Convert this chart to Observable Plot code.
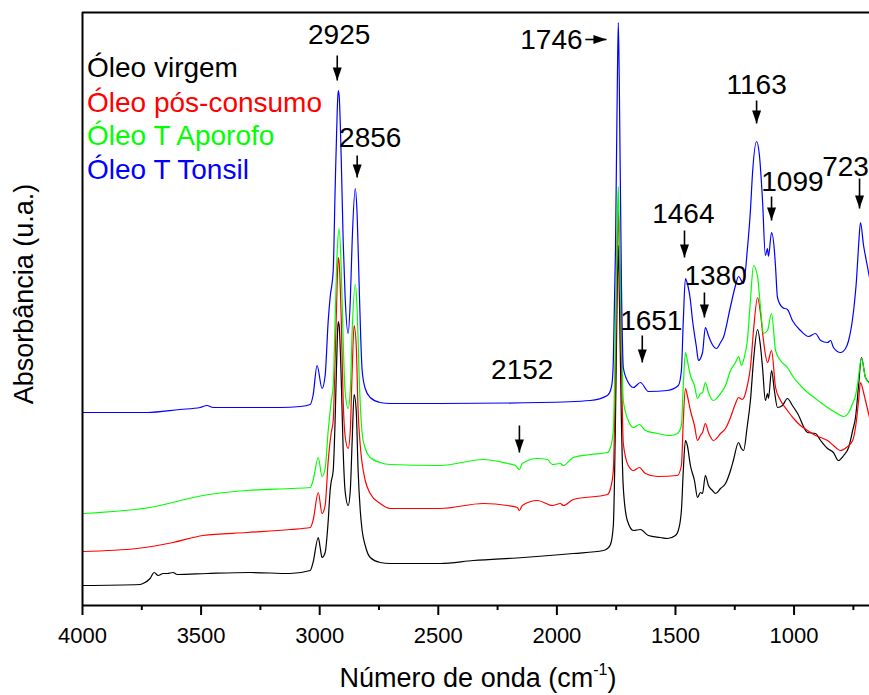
<!DOCTYPE html>
<html>
<head>
<meta charset="utf-8">
<script src="https://cdn.jsdelivr.net/npm/d3@7"></script>
<script src="https://cdn.jsdelivr.net/npm/@observablehq/plot@0.6"></script>
<style>
  html, body { margin: 0; padding: 0; background: #ffffff; }
  #chart { width: 869px; height: 695px; }
</style>
</head>
<body>
<div id="chart"></div>
<script>
// ---------- data: [wavenumber (cm-1), absorbance (u.a., offset)] ----------
const oleoVirgem = [
  [3998,0.20],[3757,0.21],[3745,0.22],[3715,0.27],[3698,0.33],[3681,0.30],[3660,0.32],[3643,0.32],
  [3618,0.33],[3601,0.31],[3475,0.32],[3293,0.33],[3125,0.32],[3040,0.35],[3028,0.43],[3006,0.68],
  [2998,0.58],[2990,0.48],[2977,0.53],[2964,0.85],[2956,1.15],[2952,1.23],[2943,1.35],[2935,1.85],
  [2926,2.65],[2922,2.84],[2918,2.80],[2909,2.25],[2901,1.55],[2893,1.15],[2880,1.00],[2871,1.15],
  [2863,1.65],[2855,2.11],[2846,1.95],[2838,1.35],[2829,0.95],[2821,0.75],[2808,0.60],[2787,0.48],
  [2745,0.43],[2703,0.42],[2492,0.42],[2352,0.45],[2141,0.48],[1931,0.52],[1804,0.55],[1787,0.57],
  [1774,0.61],[1762,0.80],[1753,1.85],[1745,3.25],[1741,3.60],[1737,3.15],[1728,1.85],[1720,1.18],
  [1703,0.85],[1677,0.75],[1648,0.76],[1614,0.70],[1564,0.68],[1534,0.67],[1500,0.70],[1488,0.75],
  [1475,0.95],[1467,1.35],[1458,1.65],[1450,1.60],[1437,1.40],[1420,1.25],[1407,1.08],[1395,1.13],
  [1386,1.12],[1374,1.30],[1361,1.20],[1344,1.15],[1331,1.12],[1310,1.17],[1289,1.22],[1268,1.35],
  [1256,1.45],[1234,1.63],[1222,1.57],[1213,1.55],[1197,1.80],[1184,2.05],[1171,2.45],[1154,2.76],
  [1142,2.60],[1133,2.38],[1121,2.05],[1112,2.12],[1108,2.07],[1095,2.35],[1083,2.15],[1070,1.98],
  [1049,2.00],[1028,2.07],[1007,2.00],[985,1.92],[943,1.73],[910,1.72],[888,1.65],[859,1.57],
  [834,1.53],[813,1.45],[791,1.50],[770,1.58],[753,1.75],[741,1.88],[728,2.20],[716,2.48],
  [699,2.28],[682,2.23]
];
const oleoPosConsumo = [
  [3998,0.54],[3770,0.57],[3618,0.63],[3492,0.70],[3306,0.73],[3125,0.76],[3040,0.78],[3028,0.85],
  [3006,1.13],[2990,0.92],[2977,1.00],[2964,1.45],[2952,1.72],[2943,1.85],[2935,2.45],[2926,3.25],
  [2922,3.48],[2918,3.43],[2909,2.85],[2901,2.05],[2893,1.70],[2880,1.57],[2871,1.75],[2863,2.35],
  [2855,2.80],[2846,2.60],[2838,1.95],[2829,1.60],[2821,1.42],[2808,1.25],[2787,1.12],[2745,1.02],
  [2703,0.97],[2492,0.97],[2310,1.02],[2209,1.00],[2167,0.98],[2158,0.95],[2146,1.00],[2082,1.05],
  [2019,1.00],[1985,1.02],[1973,1.00],[1931,1.06],[1787,1.11],[1774,1.17],[1762,1.35],[1753,2.35],
  [1745,3.65],[1741,3.95],[1737,3.55],[1728,2.45],[1720,1.62],[1699,1.40],[1677,1.35],[1652,1.38],
  [1627,1.32],[1576,1.29],[1492,1.30],[1475,1.40],[1467,1.85],[1458,2.17],[1450,2.10],[1437,1.95],
  [1420,1.80],[1407,1.65],[1395,1.70],[1386,1.73],[1374,1.82],[1361,1.73],[1340,1.65],[1327,1.67],
  [1310,1.72],[1289,1.77],[1268,1.88],[1247,2.02],[1234,2.08],[1218,2.06],[1197,2.20],[1184,2.38],
  [1171,2.75],[1154,3.08],[1142,2.93],[1129,2.65],[1112,2.43],[1095,2.55],[1078,2.18],[1057,2.05],
  [1028,1.95],[1002,1.87],[973,1.80],[943,1.75],[910,1.70],[888,1.68],[859,1.65],[834,1.60],
  [804,1.55],[779,1.58],[753,1.65],[737,1.85],[728,2.05],[720,2.23],[707,2.13],[699,2.05],[682,1.88]
];
const oleoTAporofo = [
  [3998,0.92],[3715,0.98],[3492,1.10],[3306,1.15],[3125,1.17],[3040,1.18],[3028,1.25],[3006,1.48],
  [2990,1.29],[2977,1.37],[2964,1.75],[2952,2.03],[2943,2.20],[2935,2.85],[2926,3.55],[2918,3.77],
  [2909,3.35],[2901,2.65],[2893,2.15],[2880,1.97],[2871,2.15],[2863,2.75],[2850,3.21],[2842,2.95],
  [2833,2.25],[2821,1.72],[2808,1.57],[2787,1.48],[2745,1.43],[2703,1.41],[2492,1.40],[2310,1.46],
  [2209,1.42],[2175,1.40],[2158,1.36],[2146,1.42],[2082,1.47],[2040,1.46],[2019,1.41],[1985,1.42],
  [1973,1.40],[1931,1.48],[1859,1.51],[1787,1.53],[1774,1.58],[1762,1.75],[1753,2.75],[1745,3.85],
  [1741,4.19],[1737,3.75],[1728,2.75],[1720,2.05],[1699,1.85],[1677,1.78],[1652,1.81],[1627,1.75],
  [1576,1.72],[1521,1.70],[1492,1.72],[1475,1.80],[1467,2.20],[1458,2.53],[1450,2.45],[1437,2.30],
  [1420,2.20],[1407,2.07],[1395,2.12],[1386,2.13],[1374,2.23],[1361,2.13],[1340,2.05],[1327,2.07],
  [1310,2.12],[1289,2.20],[1268,2.35],[1247,2.43],[1234,2.49],[1222,2.40],[1209,2.49],[1197,2.65],
  [1184,3.05],[1171,3.40],[1154,3.29],[1142,2.99],[1129,2.72],[1112,2.75],[1095,2.92],[1078,2.55],
  [1057,2.45],[1028,2.38],[1002,2.28],[973,2.20],[943,2.13],[910,2.07],[888,2.03],[859,1.98],
  [825,1.93],[791,1.89],[770,1.93],[753,2.02],[741,2.10],[732,2.22],[716,2.47],[699,2.28],[682,2.22]
];
const oleoTTonsil = [
  [3998,1.93],[3728,1.93],[3589,1.96],[3504,1.98],[3475,2.00],[3449,1.98],[3167,1.98],[3082,1.99],
  [3040,2.01],[3028,2.10],[3011,2.40],[2990,2.17],[2977,2.30],[2964,2.85],[2956,3.08],[2943,3.35],
  [2935,4.15],[2926,4.95],[2922,5.15],[2918,5.10],[2909,4.45],[2901,3.65],[2893,3.10],[2880,2.72],
  [2871,3.05],[2863,3.65],[2850,4.17],[2842,3.90],[2833,3.15],[2821,2.35],[2808,2.17],[2787,2.08],
  [2745,2.03],[2703,2.02],[2492,2.02],[2070,2.03],[1859,2.05],[1787,2.10],[1774,2.15],[1766,2.25],
  [1762,2.45],[1753,3.55],[1745,5.25],[1741,5.83],[1737,5.25],[1728,3.25],[1720,2.38],[1699,2.23],
  [1677,2.18],[1648,2.23],[1614,2.14],[1534,2.15],[1488,2.20],[1475,2.35],[1467,2.85],[1458,3.27],
  [1450,3.22],[1437,3.05],[1429,2.87],[1412,2.59],[1403,2.45],[1386,2.53],[1374,2.78],[1361,2.70],
  [1353,2.65],[1327,2.57],[1310,2.63],[1298,2.68],[1268,2.99],[1247,3.20],[1234,3.29],[1213,3.22],
  [1197,3.56],[1184,3.95],[1175,4.33],[1158,4.64],[1146,4.50],[1133,4.05],[1121,3.50],[1112,3.57],
  [1108,3.49],[1095,3.73],[1083,3.55],[1078,3.38],[1070,3.08],[1049,2.98],[1028,2.96],[1007,2.85],
  [973,2.75],[939,2.69],[910,2.72],[888,2.65],[859,2.63],[846,2.65],[834,2.58],[804,2.53],
  [783,2.57],[770,2.65],[749,2.95],[737,3.25],[728,3.60],[720,3.83],[707,3.60],[694,3.43],[682,3.28]
];

const seriesNames  = ["Óleo virgem", "Óleo pós-consumo", "Óleo T Aporofo", "Óleo T Tonsil"];
const seriesColors = ["#000000", "#ff0000", "#00ff00", "#0000ff"];
const seriesData   = [oleoVirgem, oleoPosConsumo, oleoTAporofo, oleoTTonsil];
const legendY      = [5.29, 4.94, 4.61, 4.27];
const legendX      = 3981;

// peak annotations
const peakLabels  = ["2925", "2856", "1746", "1464", "1380", "1651", "2152", "1163", "1099", "723"];
const peakLabelX  = [2918, 2787, 2023, 1467, 1331, 1602, 2146, 1158, 1007, 783];
const peakLabelY  = [5.705, 4.675, 5.65, 3.91, 3.29, 2.84, 2.35, 5.205, 4.23, 4.385];
// vertical arrows: x, top, tip
const arrowX      = [2926, 2842, 1462, 1378, 1640, 2158, 1158, 1095, 724];
const arrowTop    = [5.50, 4.50, 3.75, 3.13, 2.70, 1.80, 5.05, 4.09, 4.27];
const arrowTip    = [5.25, 4.28, 3.48, 2.88, 2.43, 1.53, 4.82, 3.85, 3.97];
// horizontal arrow for 1746
const hArrow = {x1: 1880, x2: 1791, y: 5.66};

const majorTicks = [4000, 3500, 3000, 2500, 2000, 1500, 1000];
const minorTicks = [3750, 3250, 2750, 2250, 1750, 1250, 750];

const xDomain = [4000, 682];
const yDomain = [0, 5.93];

// ---------- build tables ----------
const lineRows = seriesData.flatMap((s, i) =>
  s.map(([wn, a]) => ({wn, a, name: seriesNames[i], color: seriesColors[i]})));
const legendRows = seriesNames.map((n, i) => ({name: n, color: seriesColors[i], y: legendY[i]}));
const labelRows = peakLabels.map((t, i) => ({t, x: peakLabelX[i], y: peakLabelY[i]}));
const arrowRows = arrowX.map((x, i) => ({x, y1: arrowTop[i], y2: arrowTip[i]}));

// filled arrow head, tip at origin, pointing down
const arrowHead = {
  draw(context) {
    context.moveTo(0, 0);
    context.lineTo(-4.5, -13);
    context.lineTo(4.5, -13);
    context.closePath();
  }
};

const FONT = "'Liberation Sans', Arial, Helvetica, sans-serif";

const chart = Plot.plot({
  width: 869,
  height: 695,
  marginTop: 12,
  marginRight: 0,
  marginBottom: 90,
  marginLeft: 82,
  style: {fontFamily: FONT, background: "#ffffff", color: "#000000", overflow: "visible"},
  x: {domain: xDomain, axis: null},
  y: {domain: yDomain, axis: null},
  marks: [
    // spectra
    ...seriesNames.map((n, i) =>
      Plot.line(lineRows.filter(d => d.name === n), {
        x: "wn", y: "a", stroke: seriesColors[i], strokeWidth: 1.2, curve: "monotone-x"
      })),
    // frame
    Plot.ruleY([yDomain[0]], {stroke: "#000", strokeWidth: 2}),
    Plot.ruleY([yDomain[1]], {stroke: "#000", strokeWidth: 2}),
    Plot.ruleX([xDomain[0]], {stroke: "#000", strokeWidth: 2}),
    // axes
    Plot.axisX({ticks: majorTicks, tickSize: 10, tickPadding: 12, fontSize: 22,
      strokeWidth: 2, tickFormat: d3.format("d"), label: null}),
    Plot.axisX({ticks: minorTicks, tickSize: 5, text: null, strokeWidth: 2, label: null}),
    // legend
    Plot.text(legendRows, {x: () => legendX, y: "y", text: "name", fill: "color",
      textAnchor: "start", lineAnchor: "bottom", fontSize: 28}),
    // peak labels
    Plot.text(labelRows, {x: "x", y: "y", text: "t", fontSize: 28, fill: "#000"}),
    // arrows
    Plot.link(arrowRows, {x1: "x", x2: "x", y1: "y1", y2: "y2", stroke: "#000", strokeWidth: 1.6}),
    Plot.dot(arrowRows, {x: "x", y: "y2", symbol: arrowHead, fill: "#000", stroke: null}),
    Plot.link([hArrow], {x1: "x1", x2: "x2", y1: "y", y2: "y", stroke: "#000", strokeWidth: 1.6}),
    Plot.dot([hArrow], {x: "x2", y: "y", symbol: arrowHead, rotate: -90, fill: "#000", stroke: null})
  ]
});

document.getElementById("chart").appendChild(chart);

const svg = d3.select(chart);

// y-axis title
svg.append("text")
  .attr("transform", "translate(33,294) rotate(-90)")
  .attr("text-anchor", "middle")
  .attr("font-family", FONT)
  .attr("font-size", 27)
  .attr("fill", "#000")
  .text("Absorbância (u.a.)");

// x-axis title with superscript
const title = svg.append("text")
  .attr("x", 478).attr("y", 687)
  .attr("text-anchor", "middle")
  .attr("font-family", FONT)
  .attr("font-size", 27)
  .attr("fill", "#000");
title.append("tspan").text("Número de onda (cm");
title.append("tspan").attr("font-size", 16).attr("dy", -12).text("-1");
title.append("tspan").attr("dy", 12).text(")");
</script>
</body>
</html>
